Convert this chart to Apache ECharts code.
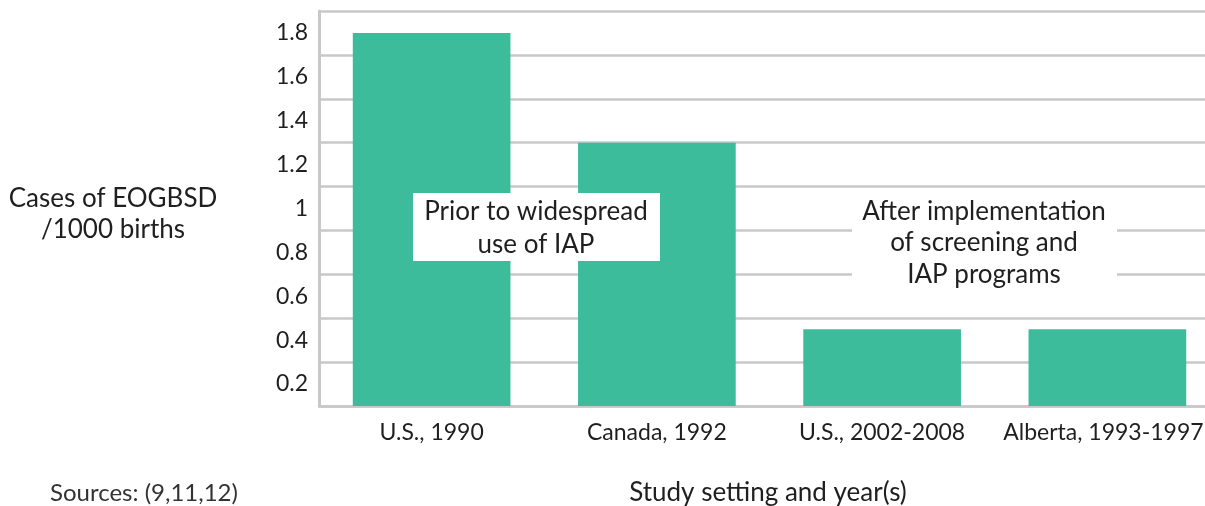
<!DOCTYPE html>
<html>
<head>
<meta charset="utf-8">
<script src="https://cdn.jsdelivr.net/npm/echarts@6/dist/echarts.min.js"></script>
<style>
html,body{margin:0;padding:0;background:#fff;}
#chart{width:1205px;height:506px;}
</style>
</head>
<body>
<div id="chart"></div>
<script>
const categories = ['U.S., 1990', 'Canada, 1992', 'U.S., 2002-2008', 'Alberta, 1993-1997'];
const casesPer1000 = [1.7, 1.2, 0.35, 0.35];
const yTickLabels = ['0.2', '0.4', '0.6', '0.8', '1', '1.2', '1.4', '1.6', '1.8'];

const FONT = 'Lato';
const TXT = '#1f1f1f';
const GRID = '#c8c8c8';

const chart = echarts.init(document.getElementById('chart'), null, {renderer: 'canvas'});
chart.setOption({
  animation: false,
  backgroundColor: '#ffffff',
  textStyle: {fontFamily: FONT},
  grid: {left: 319, width: 901, top: 11, height: 395, containLabel: false, outerBoundsMode: 'none'},
  xAxis: {
    type: 'category',
    data: categories.map((c, i) => i === categories.length - 1
      ? {value: c, textStyle: {padding: [0, 8, 0, 0]}} : c),
    axisLine: {show: true, lineStyle: {color: GRID, width: 2.5}},
    axisTick: {show: false},
    axisLabel: {color: TXT, fontSize: 23, fontFamily: FONT, margin: 15, interval: 0}
  },
  yAxis: [
    {
      type: 'value', min: 0, max: 1.8, interval: 0.2,
      axisLine: {show: true, lineStyle: {color: GRID, width: 3}},
      axisTick: {show: false},
      axisLabel: {show: false},
      splitLine: {show: true, lineStyle: {color: GRID, width: 2.5}}
    },
    {
      type: 'category', position: 'left', data: yTickLabels, boundaryGap: true,
      axisLine: {show: false}, axisTick: {show: false}, splitLine: {show: false},
      axisLabel: {color: TXT, fontSize: 23, fontFamily: FONT, margin: 11, padding: [0, 0, 7, 0]}
    }
  ],
  series: [{
    type: 'bar',
    data: casesPer1000,
    yAxisIndex: 0,
    barCategoryGap: '30%',
    itemStyle: {color: '#3DBC9B'},
    z: 2
  }],
  graphic: [
    {type: 'text', z: 11, style: {
      x: 113, y: 199, text: 'Cases of EOGBSD', font: '26px Lato', fill: TXT,
      align: 'center', verticalAlign: 'middle'
    }},
    {type: 'text', z: 11, style: {
      x: 113, y: 230, text: '/1000 births', font: '26px Lato', fill: TXT,
      align: 'center', verticalAlign: 'middle'
    }},
    {type: 'rect', shape: {x: 413, y: 193, width: 247, height: 68}, style: {fill: '#fff'}, z: 10},
    {type: 'text', z: 11, style: {
      x: 536, y: 212, text: 'Prior to widespread', font: '26px Lato', fill: TXT,
      align: 'center', verticalAlign: 'middle'
    }},
    {type: 'text', z: 11, style: {
      x: 536, y: 245, text: 'use of IAP', font: '26px Lato', fill: TXT,
      align: 'center', verticalAlign: 'middle'
    }},
    {type: 'rect', shape: {x: 852, y: 192, width: 265, height: 110}, style: {fill: '#fff'}, z: 10},
    {type: 'text', z: 11, style: {
      x: 984, y: 212, text: 'After implementation', font: '26px Lato', fill: TXT,
      align: 'center', verticalAlign: 'middle'
    }},
    {type: 'text', z: 11, style: {
      x: 984, y: 243, text: 'of screening and', font: '26px Lato', fill: TXT,
      align: 'center', verticalAlign: 'middle'
    }},
    {type: 'text', z: 11, style: {
      x: 984, y: 275, text: 'IAP programs', font: '26px Lato', fill: TXT,
      align: 'center', verticalAlign: 'middle'
    }},
    {type: 'text', z: 11, style: {
      x: 50, y: 493, text: 'Sources: (9,11,12)', font: '24px Lato', fill: '#333',
      align: 'left', verticalAlign: 'middle'
    }},
    {type: 'text', z: 11, style: {
      x: 768, y: 493, text: 'Study setting and year(s)', font: '26px Lato', fill: TXT,
      align: 'center', verticalAlign: 'middle'
    }}
  ]
});
</script>
</body>
</html>
